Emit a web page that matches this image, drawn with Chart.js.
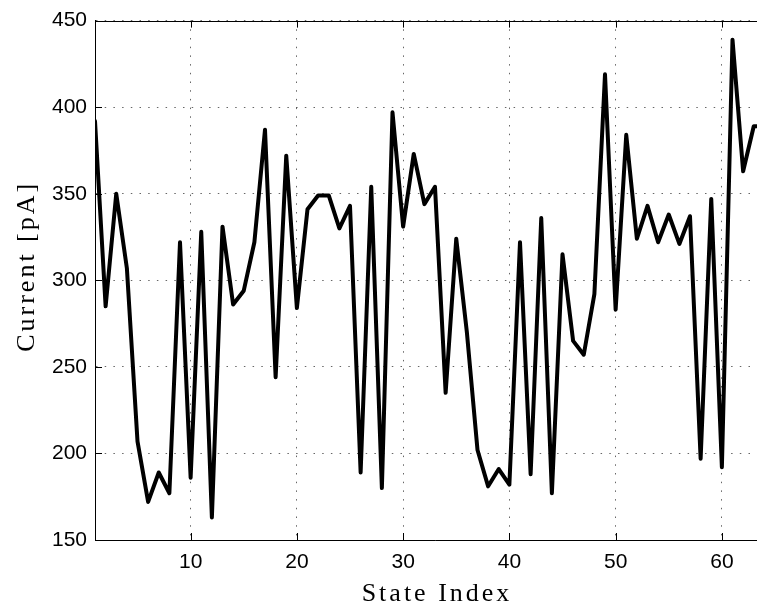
<!DOCTYPE html>
<html>
<head>
<meta charset="utf-8">
<script src="https://cdn.jsdelivr.net/npm/chart.js@4/dist/chart.umd.min.js"></script>
<style>
  html, body { margin: 0; padding: 0; background: #fff; overflow: hidden; }
  canvas { display: block; }
</style>
</head>
<body>
<canvas id="lineChart" width="800" height="607"></canvas>
<script>
// state index and measured current per state
var stateIndex = [1, 2, 3, 4, 5, 6, 7, 8, 9, 10, 11, 12, 13, 14, 15, 16,
    17, 18, 19, 20, 21, 22, 23, 24, 25, 26, 27, 28, 29, 30, 31, 32,
    33, 34, 35, 36, 37, 38, 39, 40, 41, 42, 43, 44, 45, 46, 47, 48,
    49, 50, 51, 52, 53, 54, 55, 56, 57, 58, 59, 60, 61, 62, 63, 64];
var currentPA = [392, 285, 350, 307, 207, 172, 189, 177, 322, 186, 328, 163, 331, 286, 294, 322,
    387, 244, 372, 284, 341, 349, 349, 330, 343, 189, 354, 180, 397, 331, 373, 344,
    354, 235, 324, 270, 202, 181, 191, 182, 322, 188, 336, 177, 315, 265, 257, 292,
    419, 283, 384, 324, 343, 322, 338, 321, 337, 197, 347, 192, 439, 363, 389, 389];
var xTicks = [10, 20, 30, 40, 50, 60];
var yTicks = [150, 200, 250, 300, 350, 400, 450];

// box on top, inward tick marks and the serif axis labels
var axesFrame = {
    id: 'axesFrame',
    afterDraw: function (chart) {
        var ctx = chart.ctx;
        var a = chart.chartArea;
        var xs = chart.scales.x, ys = chart.scales.y;
        ctx.save();
        ctx.strokeStyle = '#000';
        ctx.lineWidth = 1;
        ctx.beginPath();
        ctx.moveTo(a.left, Math.round(a.top) + 0.5);
        ctx.lineTo(a.right, Math.round(a.top) + 0.5);
        xTicks.forEach(function (v) {
            var px = Math.round(xs.getPixelForValue(v)) + 0.5;
            ctx.moveTo(px, a.bottom);
            ctx.lineTo(px, a.bottom - 7);
            ctx.moveTo(px, a.top);
            ctx.lineTo(px, a.top + 7);
        });
        yTicks.forEach(function (v) {
            var py = Math.round(ys.getPixelForValue(v)) + 0.5;
            ctx.moveTo(a.left, py);
            ctx.lineTo(a.left + 7, py);
        });
        ctx.stroke();

        ctx.fillStyle = '#000';
        ctx.font = '26px "Liberation Serif"';
        ctx.letterSpacing = '3px';
        ctx.textAlign = 'center';
        ctx.textBaseline = 'alphabetic';
        ctx.fillText('State Index', (a.left + a.right) / 2 + 2, 601);
        ctx.translate(34, (a.top + a.bottom) / 2 - 14);
        ctx.rotate(-Math.PI / 2);
        ctx.fillText('Current [pA]', 0, 0);
        ctx.restore();
    }
};

var ctx = document.getElementById('lineChart').getContext('2d');

var chartData = {
    datasets: [{
        data: stateIndex.map(function (s, i) { return { x: s, y: currentPA[i] }; }),
        borderColor: '#000',
        borderWidth: 4,
        borderJoinStyle: 'round',
        borderCapStyle: 'round',
        pointRadius: 0,
        tension: 0,
        fill: false
    }]
};

var tickFont = { family: '"Liberation Sans", Arial, sans-serif', size: 21 };

var chartOptions = {
    responsive: false,
    animation: false,
    layout: { padding: { left: 0, right: 25, top: 12, bottom: 0 } },
    plugins: { legend: { display: false }, tooltip: { enabled: false } },
    scales: {
        x: {
            type: 'linear',
            min: 1,
            max: 65,
            afterFit: function (scale) { scale.height = 67; },
            afterBuildTicks: function (scale) {
                scale.ticks = xTicks.map(function (v) { return { value: v }; });
            },
            grid: { color: 'rgba(0,0,0,0.6)', lineWidth: 1, drawTicks: false },
            border: { display: true, color: '#000', width: 1, dash: [1.5, 7.2] },
            ticks: { color: '#000', font: tickFont, padding: 10, autoSkip: false, maxRotation: 0 }
        },
        y: {
            min: 150,
            max: 450,
            afterFit: function (scale) { scale.width = 95; },
            afterBuildTicks: function (scale) {
                scale.ticks = yTicks.map(function (v) { return { value: v }; });
            },
            grid: { color: 'rgba(0,0,0,0.6)', lineWidth: 1, drawTicks: false },
            border: { display: true, color: '#000', width: 1, dash: [1.5, 7.2] },
            ticks: { color: '#000', font: tickFont, padding: 8 }
        }
    }
};

var lineChart = new Chart(ctx, {
    type: 'line',
    data: chartData,
    options: chartOptions,
    plugins: [axesFrame]
});
</script>
</body>
</html>
